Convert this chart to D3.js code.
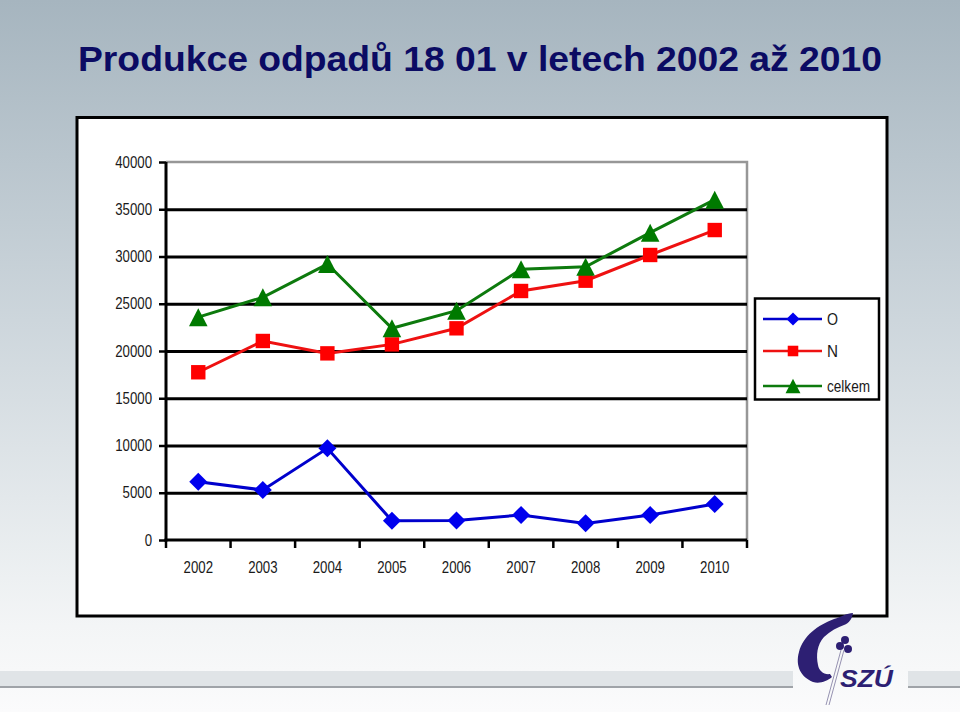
<!DOCTYPE html>
<html><head><meta charset="utf-8">
<script src="https://cdn.jsdelivr.net/npm/d3@7"></script>
<style>html,body{margin:0;padding:0;overflow:hidden;background:#fff}</style>
</head><body>
<script>
const years = ["2002","2003","2004","2005","2006","2007","2008","2009","2010"];
const valuesO = [6170, 5290, 9700, 2040, 2060, 2650, 1760, 2640, 3800];
const valuesN = [17750, 21060, 19750, 20700, 22400, 26350, 27440, 30160, 32800];
const valuesCelkem = [23580, 25680, 29200, 22400, 24270, 28640, 28920, 32520, 36010];
const yTicks = [0, 5000, 10000, 15000, 20000, 25000, 30000, 35000, 40000];
const seriesNames = ["O", "N", "celkem"];
const titleText = "Produkce odpadů 18 01 v letech 2002 až 2010";

const W = 960, H = 712;
const svg = d3.select("body").append("svg").attr("width", W).attr("height", H);
const defs = svg.append("defs");
const bg = defs.append("linearGradient").attr("id","bg").attr("x1",0).attr("y1",0).attr("x2",0).attr("y2",1);
bg.append("stop").attr("offset","0%").attr("stop-color","#a6b5bf");
bg.append("stop").attr("offset","45%").attr("stop-color","#cdd6dc");
bg.append("stop").attr("offset","88%").attr("stop-color","#f3f5f6");
bg.append("stop").attr("offset","100%").attr("stop-color","#fbfbfc");
svg.append("rect").attr("width",W).attr("height",H).attr("fill","url(#bg)");

// bottom band
svg.append("rect").attr("x",0).attr("y",671).attr("width",793).attr("height",16).attr("fill","#e0e4e7");
svg.append("rect").attr("x",0).attr("y",686).attr("width",793).attr("height",2).attr("fill","#9fa3a8");
svg.append("rect").attr("x",908).attr("y",671).attr("width",52).attr("height",16).attr("fill","#e0e4e7");
svg.append("rect").attr("x",908).attr("y",686).attr("width",52).attr("height",2).attr("fill","#9fa3a8");

// title
svg.append("text").attr("x",480).attr("y",71).attr("text-anchor","middle")
  .attr("font-family","Liberation Sans Narrow, Liberation Sans, Arial, sans-serif").attr("font-weight","bold")
  .attr("font-size",35).attr("fill","#0b0b63").text(titleText)
  .attr("textLength",804).attr("lengthAdjust","spacingAndGlyphs");

// chart box
svg.append("rect").attr("x",77).attr("y",117.5).attr("width",810).attr("height",498.5)
  .attr("fill","#fff").attr("stroke","#000").attr("stroke-width",3);

const plot = {l:166, r:747, t:162, b:540};
const x = d3.scaleBand().domain(years).range([plot.l, plot.r]).padding(0);
const y = d3.scaleLinear().domain([0,40000]).range([plot.b, plot.t]);
const cx = d => x(d) + x.bandwidth()/2;

const font = "Liberation Sans, Arial, sans-serif";
const digitW = 7.35;
function styleLabel(sel) {
  sel.attr("font-family",font).attr("font-size",16).attr("fill","#1a1a1a")
    .attr("textLength", function(){ return this.textContent.length*digitW; })
    .attr("lengthAdjust","spacingAndGlyphs");
}

// plot area border (gray top/right)
svg.append("path").attr("d",`M${plot.l},${plot.t}H${plot.r}V${plot.b}`)
  .attr("fill","none").attr("stroke","#979797").attr("stroke-width",2.5);

// gridlines
const grid = svg.append("g").attr("transform",`translate(${plot.l},0)`)
  .call(d3.axisLeft(y).tickValues(yTicks.filter(v => v>0 && v<40000)).tickSize(-(plot.r-plot.l)).tickFormat(""));
grid.select(".domain").remove();
grid.selectAll("line").attr("stroke","#000").attr("stroke-width",3);

// y axis
const yAx = svg.append("g").attr("transform",`translate(${plot.l},0)`)
  .call(d3.axisLeft(y).tickValues(yTicks).tickSize(7).tickPadding(7).tickFormat(d3.format("d")));
yAx.select(".domain").attr("stroke","#000").attr("stroke-width",3).attr("d",`M0,${plot.t}V${plot.b+1.5}`);
yAx.selectAll("line").attr("stroke","#000").attr("stroke-width",2.5);
yAx.selectAll("text").call(styleLabel);

// x axis
const xAx = svg.append("g").attr("transform",`translate(0,${plot.b})`)
  .call(d3.axisBottom(x).tickSize(0).tickPadding(22));
xAx.select(".domain").attr("stroke","#000").attr("stroke-width",3).attr("d",`M${plot.l-1.5},0H${plot.r}`);
xAx.selectAll("text").call(styleLabel);
const bounds = years.map(d => x(d)).concat([plot.r]);
svg.append("g").selectAll("line").data(bounds).join("line")
  .attr("x1",d=>d).attr("x2",d=>d).attr("y1",plot.b).attr("y2",plot.b+8)
  .attr("stroke","#000").attr("stroke-width",2.5);

const series = [
  {name: seriesNames[0], values: valuesO, color:"#0000cc", mcolor:"#0000ee", shape:"diamond"},
  {name: seriesNames[1], values: valuesN, color:"#ee1111", mcolor:"#ff0000", shape:"square"},
  {name: seriesNames[2], values: valuesCelkem, color:"#0d7a0d", mcolor:"#007a00", shape:"triangle"}
];
function markerPath(shape, px, py, s) {
  if (shape === "diamond") { const r = s*0.6; return `M${px},${py-r}L${px+r},${py}L${px},${py+r}L${px-r},${py}Z`; }
  if (shape === "square") { const r = s*0.48; return `M${px-r},${py-r}H${px+r}V${py+r}H${px-r}Z`; }
  const w = s*0.62, h = s*0.6; return `M${px},${py-h}L${px+w},${py+h}L${px-w},${py+h}Z`;
}
const line = d3.line().x((d,i)=>cx(years[i])).y(d=>y(d));
series.forEach(s => {
  svg.append("path").datum(s.values).attr("d", line).attr("fill","none")
    .attr("stroke", s.color).attr("stroke-width",3);
  svg.append("g").selectAll("path").data(s.values).join("path")
    .attr("d",(d,i)=>markerPath(s.shape, cx(years[i]), y(d), 15))
    .attr("fill", s.mcolor);
});

// legend
const lg = svg.append("g");
lg.append("rect").attr("x",755).attr("y",298.5).attr("width",124).attr("height",101)
  .attr("fill","#fff").attr("stroke","#000").attr("stroke-width",2.5);
const ly = [319, 351, 386];
series.forEach((s,i) => {
  lg.append("line").attr("x1",763).attr("x2",822).attr("y1",ly[i]).attr("y2",ly[i])
    .attr("stroke",s.color).attr("stroke-width",2.5);
  lg.append("path").attr("d",markerPath(s.shape,793,ly[i],i===2?12:11)).attr("fill",s.mcolor);
  lg.append("text").attr("x",827).attr("y",ly[i]+6).attr("font-family",font)
    .attr("font-size",16).attr("fill","#1a1a1a").text(s.name)
    .attr("textLength", s.name.length===1 ? 11 : 43).attr("lengthAdjust","spacingAndGlyphs");
});

// logo
const logoC = "#2d1f73";
const logo = svg.append("g");
logo.append("path").attr("d","M853,613 C847,613 841,617 834,619 C818,625 803,636 799,652 C795,666 801,677 813,682 C820,684 827,681 832,677 L830,674 C824,675 819,671 818,665 C816,655 817,645 824,637 C830,631 838,627 844,625 C849,623 852,619 853,613 Z")
  .attr("fill",logoC);
[[840,646],[845,640],[848,649]].forEach(p => logo.append("circle").attr("cx",p[0]).attr("cy",p[1]).attr("r",4).attr("fill",logoC));
logo.append("path").attr("d","M841,650 L826,705 M844,650 L829,705").attr("stroke","#8a86a8").attr("stroke-width",0.9).attr("fill","none");
logo.append("text").attr("x",840).attr("y",687).attr("font-family",font).attr("font-weight","bold")
  .attr("font-style","italic").attr("font-size",24).attr("fill",logoC).text("SZÚ")
  .attr("textLength",53).attr("lengthAdjust","spacingAndGlyphs");
</script>
</body></html>
